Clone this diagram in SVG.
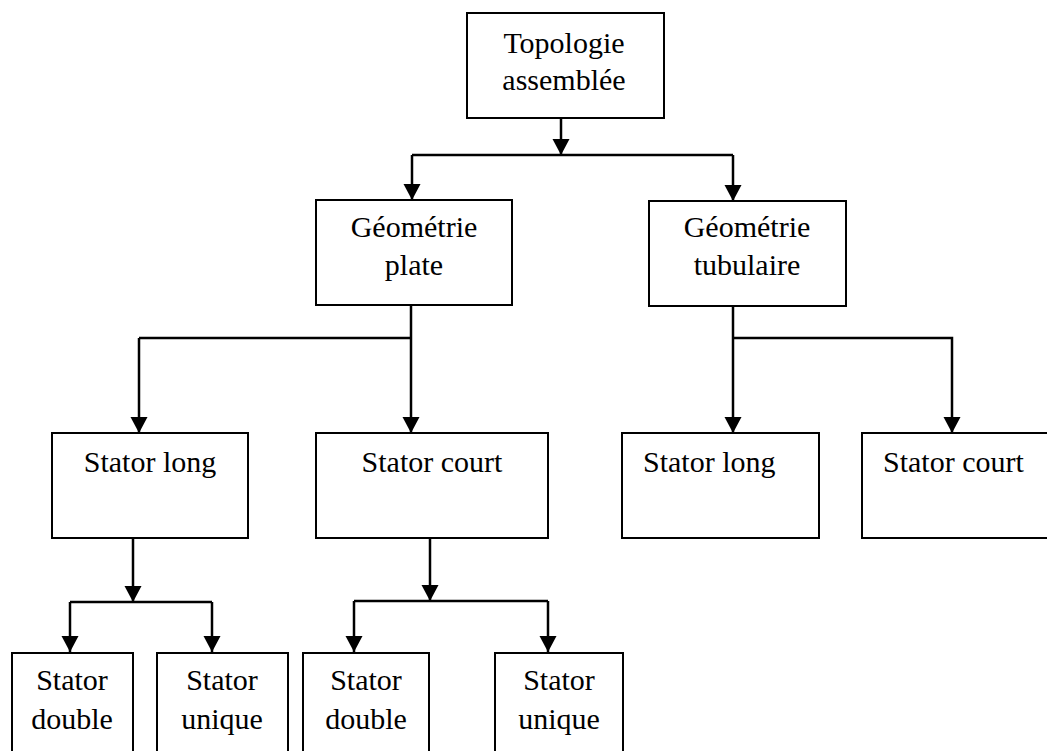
<svg xmlns="http://www.w3.org/2000/svg" width="1047" height="751" viewBox="0 0 1047 751">
  <style>
    .box { fill: #fff; stroke: #000; stroke-width: 2; }
    .lbl { font-family: "Liberation Serif", "Times New Roman", serif; font-size: 30px; fill: #000; }
    .c { text-anchor: middle; }
    .wire { fill: none; stroke: #000; stroke-width: 2.5; }
  </style>
  <defs>
    <marker id="head" markerUnits="userSpaceOnUse" markerWidth="20" markerHeight="20" viewBox="0 0 20 20" refX="16" refY="10" orient="auto">
      <path d="M0,1.5 L16,10 L0,18.5 Z" fill="#000"/>
    </marker>
  </defs>

  <rect width="1047" height="751" fill="#fff"/>

  <!-- connectors -->
  <g id="connectors" class="wire">
    <path d="M561,118 V155" marker-end="url(#head)"/>
    <path d="M412,155 H733"/>
    <path d="M412,155 V200" marker-end="url(#head)"/>
    <path d="M733,155 V201" marker-end="url(#head)"/>

    <path d="M411,305 V433" marker-end="url(#head)"/>
    <path d="M139,338 H411"/>
    <path d="M139,338 V433" marker-end="url(#head)"/>

    <path d="M733,306 V433" marker-end="url(#head)"/>
    <path d="M733,338 H952 V433" marker-end="url(#head)"/>

    <path d="M133,538 V602" marker-end="url(#head)"/>
    <path d="M70,602 H212"/>
    <path d="M70,602 V652" marker-end="url(#head)"/>
    <path d="M212,602 V652" marker-end="url(#head)"/>

    <path d="M430,538 V601" marker-end="url(#head)"/>
    <path d="M354,601 H548"/>
    <path d="M354,601 V652" marker-end="url(#head)"/>
    <path d="M548,601 V652" marker-end="url(#head)"/>
  </g>

  <!-- nodes -->
  <g id="topologie">
    <rect class="box" x="467" y="13" width="197" height="105"/>
    <text class="lbl c" x="564" y="53">Topologie</text>
    <text class="lbl c" x="564" y="90">assemblée</text>
  </g>

  <g id="geometrie-plate">
    <rect class="box" x="316" y="200" width="196" height="105"/>
    <text class="lbl c" x="414" y="237">Géométrie</text>
    <text class="lbl c" x="414" y="275">plate</text>
  </g>

  <g id="geometrie-tubulaire">
    <rect class="box" x="649" y="201" width="197" height="105"/>
    <text class="lbl c" x="747" y="237">Géométrie</text>
    <text class="lbl c" x="747" y="275">tubulaire</text>
  </g>

  <g id="plate-stator-long">
    <rect class="box" x="52" y="433" width="196" height="105"/>
    <text class="lbl c" x="150" y="472">Stator long</text>
  </g>

  <g id="plate-stator-court">
    <rect class="box" x="316" y="433" width="232" height="105"/>
    <text class="lbl c" x="432" y="472">Stator court</text>
  </g>

  <g id="tubulaire-stator-long">
    <rect class="box" x="622" y="433" width="197" height="105"/>
    <text class="lbl" x="643" y="472">Stator long</text>
  </g>

  <g id="tubulaire-stator-court">
    <rect class="box" x="862" y="433" width="198" height="105"/>
    <text class="lbl" x="883" y="472">Stator court</text>
  </g>

  <g id="long-stator-double">
    <rect class="box" x="12" y="653" width="121" height="120"/>
    <text class="lbl c" x="72" y="690">Stator</text>
    <text class="lbl c" x="72" y="729">double</text>
  </g>

  <g id="long-stator-unique">
    <rect class="box" x="157" y="653" width="131" height="120"/>
    <text class="lbl c" x="222" y="690">Stator</text>
    <text class="lbl c" x="222" y="729">unique</text>
  </g>

  <g id="court-stator-double">
    <rect class="box" x="303" y="653" width="126" height="120"/>
    <text class="lbl c" x="366" y="690">Stator</text>
    <text class="lbl c" x="366" y="729">double</text>
  </g>

  <g id="court-stator-unique">
    <rect class="box" x="495" y="653" width="128" height="120"/>
    <text class="lbl c" x="559" y="690">Stator</text>
    <text class="lbl c" x="559" y="729">unique</text>
  </g>
</svg>
